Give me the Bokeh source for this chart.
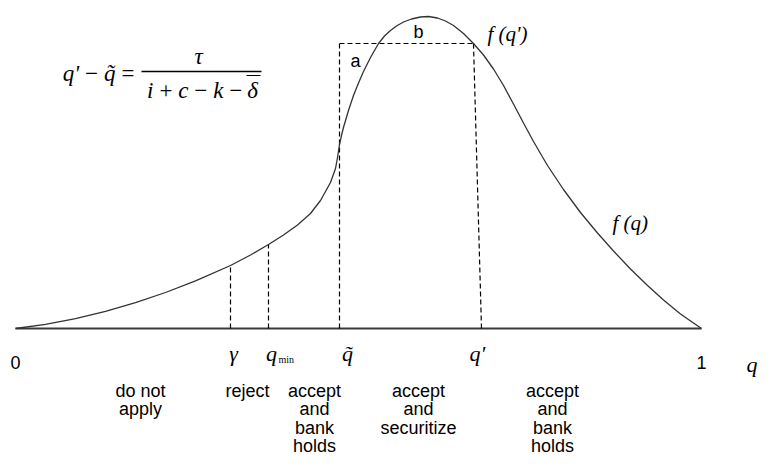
from bokeh.plotting import figure
from bokeh.models import Range1d
from bokeh.core.properties import value
from bokeh.embed import file_html
from bokeh.resources import INLINE

# ---- data ----
q_curve = [0.0000, 0.0437, 0.0875, 0.1312, 0.1749, 0.2187, 0.2624, 0.3134, 0.3426, 0.3688,
           0.3907, 0.4111, 0.4300, 0.4446, 0.4592, 0.4665, 0.4694, 0.4723, 0.4752, 0.4781,
           0.4854, 0.4927, 0.5000, 0.5073, 0.5175, 0.5292, 0.5379, 0.5466, 0.5554, 0.5656,
           0.5773, 0.5904, 0.6020, 0.6152, 0.6268, 0.6385, 0.6531, 0.6676, 0.6822, 0.6968,
           0.7114, 0.7259, 0.7405, 0.7551, 0.7755, 0.7988, 0.8236, 0.8484, 0.8717, 0.8965,
           0.9213, 0.9446, 0.9694, 0.9883, 1.0000]
f_curve = [0.000, 0.042, 0.099, 0.171, 0.258, 0.360, 0.477, 0.630, 0.735, 0.840,
           0.935, 1.035, 1.150, 1.280, 1.460, 1.600, 1.710, 1.840, 1.930, 2.010,
           2.180, 2.330, 2.455, 2.570, 2.710, 2.850, 2.925, 2.980, 3.025, 3.065,
           3.095, 3.115, 3.120, 3.105, 3.075, 3.030, 2.950, 2.850, 2.735, 2.595,
           2.430, 2.245, 2.055, 1.870, 1.630, 1.390, 1.160, 0.955, 0.775, 0.595,
           0.430, 0.285, 0.145, 0.055, 0.000]

threshold_names = ["gamma", "q_min", "q_tilde", "q_prime"]
threshold_q = [0.3134, 0.3688, 0.4723, 0.6676]      # top of each dashed line
threshold_q_base = [0.3134, 0.3688, 0.4723, 0.6793]  # foot of each dashed line
threshold_f = [0.630, 0.840, 2.850, 2.850]
f_q_prime = 2.850

axis_ticks = [0.0, 1.0]
axis_tick_labels = ["0", "1"]

outcome_labels = ["do not\napply", "reject", "accept\nand\nbank\nholds",
                  "accept\nand\nsecuritize", "accept\nand\nbank\nholds"]

# ---- layout helpers (picture pixels -> data) ----
W, H = 757, 459
PXQ, PYF = 686.0, 100.0
X0_PIX, Y0_PIX = 15.0, 328.0


def qx(px):
    return (px - X0_PIX) / PXQ


def fy(py):
    return (Y0_PIX - py) / PYF


x_start = qx(0)
y_end = fy(0)
p = figure(width=W, height=H,
           x_range=Range1d(x_start, x_start + W / PXQ),
           y_range=Range1d(y_end - H / PYF, y_end),
           x_axis_type=None, y_axis_type=None,
           toolbar_location=None, output_backend="svg", min_border=0,
           outline_line_color=None)
p.background_fill_color = "white"
p.border_fill_color = "white"

SERIF = value("Liberation Serif")
SANS = value("Liberation Sans")

# baseline
p.segment(x0=[axis_ticks[0]], y0=[0], x1=[axis_ticks[1]], y1=[0],
          line_color="#3a3a3a", line_width=1.8)

# dashed guides
p.segment(x0=threshold_q_base, y0=[0] * 4, x1=threshold_q, y1=threshold_f,
          line_color="black", line_width=1.2, line_dash="5 3")
p.segment(x0=[threshold_q[2]], y0=[f_q_prime], x1=[threshold_q[3]], y1=[f_q_prime],
          line_color="black", line_width=1.2, line_dash="5 3")

# density curve
p.line(q_curve, f_curve, line_color="#333333", line_width=1.3,
       line_join="round")

# threshold labels
g, qm, qt, qp = threshold_q
p.text(x=[g + 3 / PXQ, qm + 3 / PXQ, qt + 8 / PXQ, qp + 4 / PXQ],
       y=[fy(353)] * 4, text=["γ", "q", "q\u0303", "q'"],
       text_font=SERIF, text_font_style="italic", text_font_size="22px",
       text_align="center", text_baseline="middle", text_color="black")
p.text(x=[qm + 10 / PXQ], y=[fy(359)], text=["min"], text_font=SERIF,
       text_font_size="10px", text_align="left", text_baseline="middle",
       text_color="black")

# 0 / 1 ticks and axis name
p.text(x=axis_ticks, y=[fy(362)] * 2, text=axis_tick_labels, text_font=SANS,
       text_font_size="18px", text_align="center", text_baseline="middle",
       text_color="black")
p.text(x=[qx(746)], y=[fy(364)], text=["q"], text_font=SERIF,
       text_font_style="italic", text_font_size="22px", text_align="left",
       text_baseline="middle", text_color="black")

# outcome labels
centers = [140, 247, 314, 418, 552]
lx, ly, lt = [], [], []
for cx, lab in zip(centers, outcome_labels):
    for i, line in enumerate(lab.split("\n")):
        lx.append(qx(cx))
        ly.append(fy(390 + 18.5 * i))
        lt.append(line)
p.text(x=lx, y=ly, text=lt, text_font=SANS, text_font_size="18px",
       text_align="center", text_baseline="middle", text_color="black")

# a / b region marks
p.text(x=[qx(355), qx(418)], y=[fy(60), fy(31)], text=["a", "b"],
       text_font=SANS, text_font_size="18px", text_align="center",
       text_baseline="middle", text_color="black")

# f(q') and f(q)
p.text(x=[qx(487), qx(612)], y=[fy(33), fy(222)], text=["f (q')", "f (q)"],
       text_font=SERIF, text_font_style="italic", text_font_size="21px",
       text_align="left", text_baseline="middle", text_color="black")

# formula  q' - q~ = tau / (i + c - k - delta-bar)
p.text(x=[qx(135)], y=[fy(73)], text=["q'\u2009\u2212\u2009q\u0303\u2009="],
       text_font=SERIF, text_font_style="italic", text_font_size="23px",
       text_align="right", text_baseline="middle", text_color="black")
p.segment(x0=[qx(141)], y0=[fy(71)], x1=[qx(261)], y1=[fy(71)],
          line_color="black", line_width=1.3)
p.text(x=[qx(198)], y=[fy(56)], text=["τ"], text_font=SERIF,
       text_font_style="italic", text_font_size="23px", text_align="center",
       text_baseline="middle", text_color="black")
p.text(x=[qx(243)], y=[fy(90)], text=["i\u2009+\u2009c\u2009\u2212\u2009k\u2009\u2212"],
       text_font=SERIF, text_font_style="italic", text_font_size="23px",
       text_align="right", text_baseline="middle", text_color="black")
p.text(x=[qx(252)], y=[fy(90)], text=["δ"], text_font=SERIF,
       text_font_style="italic", text_font_size="23px", text_align="center",
       text_baseline="middle", text_color="black")
p.segment(x0=[qx(246)], y0=[fy(75)], x1=[qx(260)], y1=[fy(75)],
          line_color="black", line_width=1.1)

open("out.html", "w").write(file_html(p, INLINE))
